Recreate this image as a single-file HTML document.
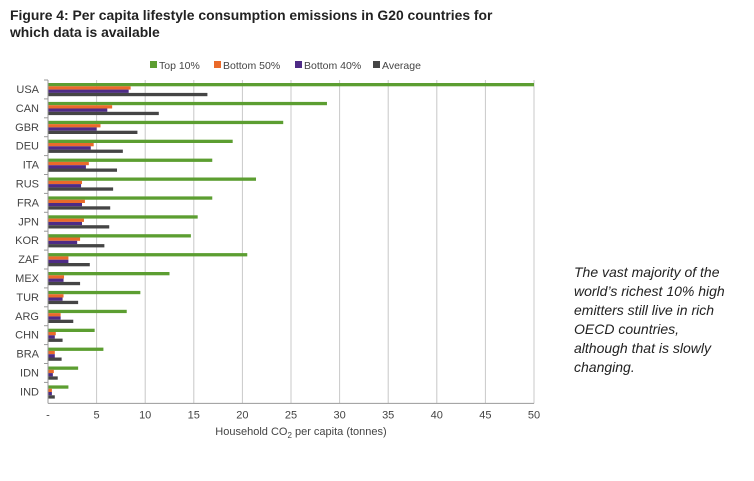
<!DOCTYPE html>
<html><head><meta charset="utf-8"><style>
body{margin:0;background:#fff;width:754px;height:481px;overflow:hidden;font-family:"Liberation Sans",Arial,sans-serif}
svg{display:block}
</style></head><body>
<svg id="c" width="754" height="481">
<text x="10" y="20" font-size="13.9" font-weight="bold" fill="#222">Figure 4: Per capita lifestyle consumption emissions in G20 countries for</text>
<text x="10" y="37" font-size="13.9" font-weight="bold" fill="#222">which data is available</text>
<g id="legend"></g>
<g id="grid"></g>
<g id="bars"></g>
<g id="axes"></g>
<text x="301" y="435" font-size="11" fill="#444" text-anchor="middle">Household CO<tspan font-size="8" dy="3">2</tspan><tspan dy="-3"> per capita (tonnes)</tspan></text>
<g font-size="14" font-style="italic" fill="#222">
<text x="574" y="277">The vast majority of the</text>
<text x="574" y="296">world’s richest 10% high</text>
<text x="574" y="315">emitters still live in rich</text>
<text x="574" y="334">OECD countries,</text>
<text x="574" y="353">although that is slowly</text>
<text x="574" y="372">changing.</text>
</g>
</svg>
<script>
const categories=["USA","CAN","GBR","DEU","ITA","RUS","FRA","JPN","KOR","ZAF","MEX","TUR","ARG","CHN","BRA","IDN","IND"];
const top10=[50,28.7,24.2,19.0,16.9,21.4,16.9,15.4,14.7,20.5,12.5,9.5,8.1,4.8,5.7,3.1,2.1];
const bottom50=[8.5,6.6,5.4,4.7,4.2,3.5,3.8,3.7,3.3,2.1,1.65,1.6,1.3,0.8,0.7,0.6,0.4];
const bottom40=[8.3,6.1,5.0,4.4,3.9,3.4,3.5,3.5,3.0,2.1,1.6,1.5,1.3,0.7,0.7,0.5,0.4];
const average=[16.4,11.4,9.2,7.7,7.1,6.7,6.4,6.3,5.8,4.3,3.3,3.1,2.6,1.5,1.4,1.0,0.7];
const tickValues=[0,5,10,15,20,25,30,35,40,45,50];
const tickLabels=["-","5","10","15","20","25","30","35","40","45","50"];
const seriesNames=["Top 10%","Bottom 50%","Bottom 40%","Average"];
const NS="http://www.w3.org/2000/svg";
const x0=48,x1=534,xMax=50,yTop=80,step=18.9;
const xs=v=>x0+(v/xMax)*(x1-x0);
const ys=i=>yTop+3+i*step;
const colors=["#5c9e31","#ea6a2a","#4e2b86","#454545"];
const series=[top10,bottom50,bottom40,average];
function mk(tag,attrs,parent){const e=document.createElementNS(NS,tag);for(const k in attrs)e.setAttribute(k,attrs[k]);parent.appendChild(e);return e;}
const grid=document.getElementById('grid'),bars=document.getElementById('bars'),axes=document.getElementById('axes'),legend=document.getElementById('legend');
const yBottom=ys(categories.length-1)+18;
tickValues.forEach((v,i)=>{
  if(i>0){const l=mk('line',{x1:xs(v),x2:xs(v),y1:yTop,y2:yBottom,stroke:'#c8c8c8','stroke-width':1},grid);
  
  }
  const t=mk('text',{x:xs(v),y:yBottom+15,'font-size':11,fill:'#444','text-anchor':'middle'},axes);
  t.textContent=tickLabels[i];
  
  
});
const ax=mk('line',{x1:x0,x2:x0,y1:yTop,y2:yBottom,stroke:'#999'},axes);


const bx=mk('line',{x1:x0,x2:x1,y1:yBottom,y2:yBottom,stroke:'#999'},axes);


categories.forEach((c,i)=>{
  const t=mk('text',{x:39,y:ys(i)+10,'font-size':11,fill:'#444','text-anchor':'end'},axes);
  t.textContent=c;
  
  
  const tk=mk('line',{x1:x0-4,x2:x0,y1:ys(i)-3,y2:ys(i)-3,stroke:'#999'},axes);
  
  
  series.forEach((s,k)=>{
    const r=mk('rect',{x:x0,y:ys(i)+k*3.3,width:Math.max(0,xs(s[i])-x0),height:3.3,fill:colors[k]},bars);
    
    
  });
});
const lx=[150,214,295,373];
seriesNames.forEach((n,k)=>{
  const r=mk('rect',{x:lx[k],y:61,width:7,height:7,fill:colors[k]},legend);
  
  
  const t=mk('text',{x:lx[k]+9,y:69,'font-size':10.5,fill:'#444'},legend);
  t.textContent=n;
  
  
});
</script>
</body></html>
